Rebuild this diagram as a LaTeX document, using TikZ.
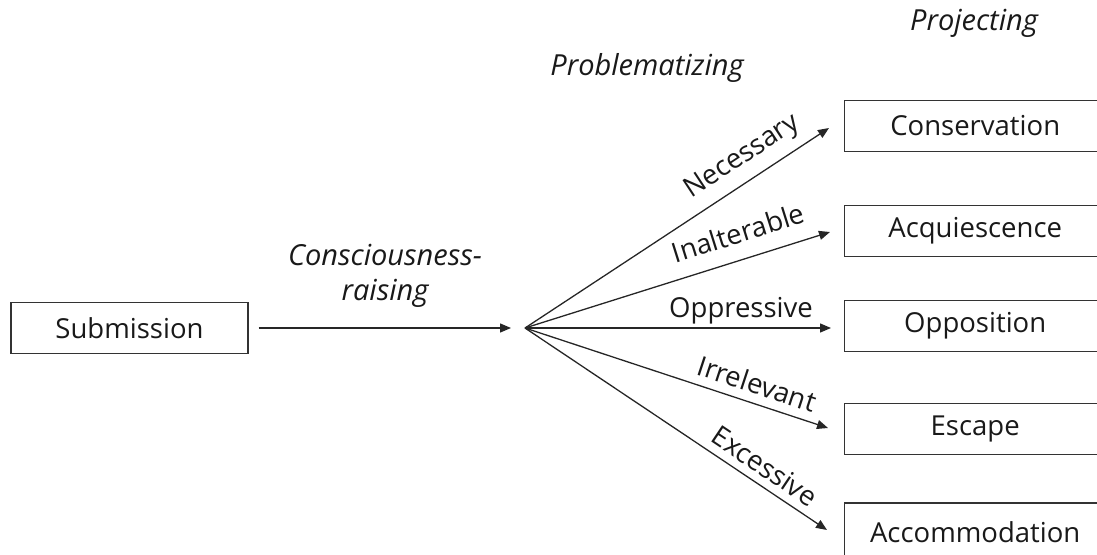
\documentclass[tikz,border=0pt]{standalone}
\usepackage{fontspec}
\setmainfont{Open Sans}
\usetikzlibrary{arrows.meta}
\begin{document}
\begin{tikzpicture}[x=1pt,y=-1pt,
  every node/.style={font=\fontsize{27.5}{35}\selectfont, text=black!90},
  stagebox/.style={draw=black!80, line width=1.4pt, minimum height=51pt, inner sep=0pt},
  flow/.style={draw=black!85, line width=1.3pt, -{Triangle[length=11pt,width=9pt]}},
  phase/.style={font=\fontsize{29}{35}\selectfont\itshape, align=center},
  path label/.style={sloped, anchor=south, inner sep=0pt, inner ysep=#1, text depth=0pt},
]
\clip (0,0) rectangle (1097,554);

% stages
\node[stagebox, minimum width=237pt] (sub) at (129.5,328) {Submission};
\node[stagebox, minimum width=262pt, anchor=west] (cons) at (843.5,126) {Conservation};
\node[stagebox, minimum width=262pt, anchor=west] (acq) at (843.5,231) {Acquiescence};
\node[stagebox, minimum width=262pt, anchor=west] (opp) at (843.5,326) {Opposition};
\node[stagebox, minimum width=262pt, anchor=west] (esc) at (843.5,429) {Escape};
\node[stagebox, minimum width=262pt, minimum height=58pt, anchor=west] (acc) at (843.5,532) {Accommodation};

% phase headings
\node[phase] (cr) at (385,276) {Consciousness-\\raising};
\node[phase, anchor=base] (pr) at (647,75) {Problematizing};
\node[phase, anchor=base] (pj) at (974,30) {Projecting};

% branching point and arrow ends
\coordinate (hubin) at (511,328);
\coordinate (hub) at (525,328);
\coordinate (tN) at (829,128);
\coordinate (tI) at (830,232);
\coordinate (tO) at (831,328);
\coordinate (tR) at (828,428);
\coordinate (tE) at (827,530);

\draw[flow, shorten <=10pt] (sub.east) -- (hubin);
\draw[flow] (hub) -- (tN) node[path label=16pt, pos=0.757] {Necessary};
\draw[flow] (hub) -- (tI) node[path label=16pt, pos=0.725] {Inalterable};
\draw[flow] (hub) -- (tO) node[path label=10pt, pos=0.706] {Oppressive};
\draw[flow] (hub) -- (tR) node[path label=9pt, pos=0.746] {Irrelevant};
\draw[flow] (hub) -- (tE) node[path label=8pt, pos=0.76] {Excessive};
\end{tikzpicture}
\end{document}
